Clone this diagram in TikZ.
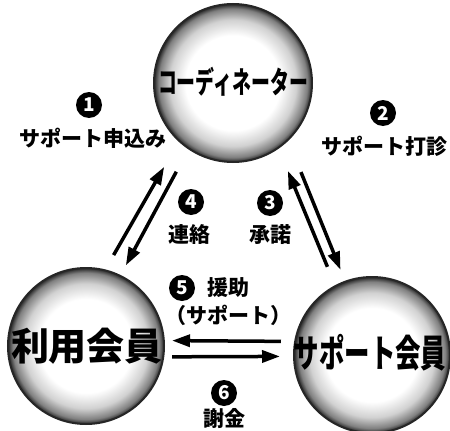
\documentclass[tikz,border=0pt]{standalone}
\usepackage{fontspec}
\usepackage{tikz}
\usetikzlibrary{positioning, arrows.meta}
\newfontfamily\jpfont{Noto Sans CJK JP}
\pgfdeclareradialshading{speckball}{\pgfpoint{0bp}{0bp}}{color(0bp)=(white); color(15bp)=(white); color(20bp)=(black!18); color(23.5bp)=(black!50); color(25bp)=(black!85); color(50bp)=(black!85)}

\begin{document}
\begin{tikzpicture}[x=1pt,y=-1pt,>=Triangle,
  ball/.style={circle,draw=black!85,line width=2pt,shade,shading=speckball,minimum size=#1,inner sep=0pt,outer sep=0pt},
  big/.style={font=\jpfont\bfseries\fontsize{38}{38}\selectfont,inner sep=0pt},
  lbl/.style={font=\jpfont\bfseries\fontsize{21}{21}\selectfont,inner sep=0pt},
  num/.style={circle,fill=black,text=white,inner sep=0pt,minimum size=26pt,font=\jpfont\bfseries\fontsize{19}{19}\selectfont},
  arr/.style={line width=3.5pt,-{Triangle[length=18pt,width=12pt]}}]
  \useasboundingbox (0,0) rectangle (450,431);
  \node[ball=158pt](coord) at (233,83){};
  \node[ball=156pt](user) at (86,346){};
  \node[ball=156pt](supp) at (372,355){};
  \node[big,font=\jpfont\bfseries\fontsize{30}{30}\selectfont,xscale=0.63](coordtxt) at (233,82){コーディネーター};
  \node[big](usertxt) at (87,346){利用会員};
  \node[big,xscale=0.67](supptxt) at (370,353){サポート会員};
  \draw[arr,shorten <=17.6pt,shorten >=30pt](user.76.7)--(coord.227.2);
  \draw[arr,shorten <=26.4pt,shorten >=11.9pt](coord.236.6)--(user.64.3);
  \draw[arr,shorten <=20.9pt,shorten >=25pt](supp.118.4)--(coord.305.2);
  \draw[arr,shorten <=34.8pt,shorten >=12.8pt](coord.314.6)--(supp.110.6);
  \draw[arr,shorten <=14.2pt,shorten >=8.2pt](supp.170.6)--(user.4);
  \draw[arr,shorten <=8.8pt,shorten >=14pt](user.352.1)--(supp.181.9);
  \node[num](n1) at (89,105){1};
  \node[lbl](l1) at (93,138){サポート申込み};
  \node[num](n2) at (383,113){2};
  \node[lbl](l2) at (384,146){サポート打診};
  \node[num](n3) at (270,203){3};
  \node[lbl](l3) at (270,235){承諾};
  \node[num](n4) at (191,202){4};
  \node[lbl](l4) at (189,235){連絡};
  \node[num](n5) at (182,288){5};
  \node[lbl](l5) at (228,288){援助};
  \node[lbl](l5b) at (228,315){（サポート）};
  \node[num](n6) at (224,393){6};
  \node[lbl](l6) at (224,419){謝金};
\end{tikzpicture}
\end{document}
